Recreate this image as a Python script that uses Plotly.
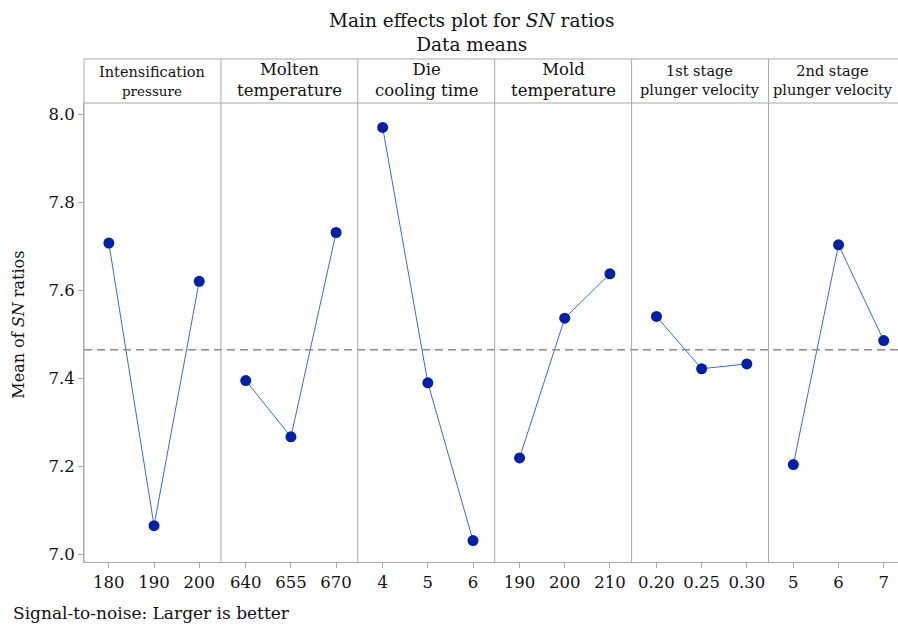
import plotly.graph_objects as go

# ---- data ----
factors = ["Intensification pressure", "Molten temperature", "Die cooling time",
           "Mold temperature", "1st stage plunger velocity", "2nd stage plunger velocity"]
levels_pressure = ["180", "190", "200"]
levels_molten = ["640", "655", "670"]
levels_cooling = ["4", "5", "6"]
levels_mold = ["190", "200", "210"]
levels_v1 = ["0.20", "0.25", "0.30"]
levels_v2 = ["5", "6", "7"]
sn_pressure = [7.708, 7.065, 7.621]
sn_molten = [7.395, 7.267, 7.732]
sn_cooling = [7.971, 7.390, 7.031]
sn_mold = [7.219, 7.537, 7.638]
sn_v1 = [7.541, 7.422, 7.433]
sn_v2 = [7.204, 7.704, 7.486]
grand_mean = 7.465
y_ticks = [7.0, 7.2, 7.4, 7.6, 7.8, 8.0]

levels = [levels_pressure, levels_molten, levels_cooling, levels_mold, levels_v1, levels_v2]
values = [sn_pressure, sn_molten, sn_cooling, sn_mold, sn_v1, sn_v2]

# header text: (line1, line2, size1, size2, centre_y_px)
headers = [("Intensification", "pressure", 14.5, 13.5, 82),
           ("Molten", "temperature", 16.5, 16.5, 80.5),
           ("Die", "cooling time", 16.5, 16.5, 80.5),
           ("Mold", "temperature", 16.5, 16.5, 80.5),
           ("1st stage", "plunger velocity", 14.5, 14.5, 81),
           ("2nd stage", "plunger velocity", 14.5, 14.5, 81)]

# ---- layout geometry (pixels) ----
W, H = 898, 628
L, R = 84, 0
TOP, BOT = 103.3, 562.3
PW = W - L - R
PH = BOT - TOP
panel_w = 136.9
hdr_top = 59.3
FONT = "DejaVu Serif"
GRID = "#a8a8a8"
TXT = "#111111"

def px_x(x):
    return (x - L) / PW

def px_y(y):
    return (BOT - y) / PH

fig = go.Figure()
xr_full = [-0.55, 2.48]
units_per_px = (xr_full[1] - xr_full[0]) / panel_w

layout_axes = {}
for i in range(6):
    x0 = L + i * panel_w
    x1 = min(x0 + panel_w, W - R)
    d0, d1 = px_x(x0), px_x(x1)
    xr = [xr_full[0], xr_full[0] + (x1 - x0) * units_per_px]
    name = "xaxis" if i == 0 else f"xaxis{i+1}"
    layout_axes[name] = dict(
        domain=[d0, min(d1, 1.0)], range=xr, anchor="y",
        tickmode="array", tickvals=[0, 1, 2], ticktext=levels[i],
        ticks="outside", ticklen=5, tickcolor=GRID, showline=True,
        linecolor=GRID, linewidth=1, showgrid=False, zeroline=False,
        tickfont=dict(family=FONT, size=16.5, color=TXT), fixedrange=True,
    )
    xa = "x" if i == 0 else f"x{i+1}"
    fig.add_trace(go.Scatter(
        x=[0, 1, 2], y=values[i], xaxis=xa, yaxis="y", mode="lines+markers",
        line=dict(color="#3a6ad6", width=1),
        marker=dict(color="#0021a5", size=11),
        showlegend=False, hoverinfo="skip"))

fig.update_layout(**layout_axes)
fig.update_layout(
    width=W, height=H,
    margin=dict(l=L, r=R, t=TOP, b=H - BOT, autoexpand=False),
    paper_bgcolor="white", plot_bgcolor="white",
    yaxis=dict(range=[6.9823, 8.0266], anchor="x", domain=[0, 1],
               tickvals=y_ticks, ticktext=[f"{v:.1f}" for v in y_ticks],
               ticks="outside", ticklen=5, tickcolor=GRID,
               showline=True, linecolor=GRID, linewidth=1,
               showgrid=False, zeroline=False,
               tickfont=dict(family=FONT, size=16.5, color=TXT), fixedrange=True),
)

shapes = []
shapes.append(dict(type="line", xref="paper", yref="y", x0=0, x1=1,
                   y0=grand_mean, y1=grand_mean,
                   line=dict(color="#8c8c8c", width=1.5, dash="8px,5px")))
yh = px_y(hdr_top)
shapes.append(dict(type="line", xref="paper", yref="paper", x0=0, x1=1, y0=yh, y1=yh,
                   line=dict(color=GRID, width=1)))
shapes.append(dict(type="line", xref="paper", yref="paper", x0=0, x1=1, y0=1, y1=1,
                   line=dict(color=GRID, width=1)))
shapes.append(dict(type="line", xref="paper", yref="paper", x0=0, x1=0, y0=0, y1=yh,
                   line=dict(color=GRID, width=1)))
for i in range(1, 6):
    xp = px_x(L + i * panel_w)
    shapes.append(dict(type="line", xref="paper", yref="paper", x0=xp, x1=xp, y0=0, y1=yh,
                       line=dict(color=GRID, width=1)))
fig.update_layout(shapes=shapes)

ann = []
for i, (t1, t2, s1, s2, cy) in enumerate(headers):
    cx = px_x(L + (i + 0.5) * panel_w)
    if i == 5:
        cx = px_x(L + i * panel_w + 64)
    text = f"{t1}<br><span style='font-size:{s2}px'>{t2}</span>"
    ann.append(dict(text=text, x=cx, y=px_y(cy), xref="paper", yref="paper",
                    showarrow=False, xanchor="center", yanchor="middle",
                    font=dict(family=FONT, size=s1, color=TXT)))
ann.append(dict(text="Main effects plot for <i>SN</i> ratios<br>Data means",
                x=px_x(471), y=px_y(32.5),
                xref="paper", yref="paper", showarrow=False, xanchor="center", yanchor="middle",
                font=dict(family=FONT, size=18.5, color=TXT)))
ann.append(dict(text="Mean of <i>SN</i> ratios", x=px_x(19), y=px_y(325), textangle=-90,
                xref="paper", yref="paper", showarrow=False, xanchor="center", yanchor="middle",
                font=dict(family=FONT, size=16, color=TXT)))
ann.append(dict(text="Signal-to-noise: Larger is better", x=px_x(11), y=px_y(613),
                xref="paper", yref="paper", showarrow=False, xanchor="left", yanchor="middle",
                font=dict(family=FONT, size=17, color=TXT)))
fig.update_layout(annotations=ann)

fig.write_html("out.html", config={"displayModeBar": False},
               post_script="document.body.style.margin='0';document.body.style.overflow='hidden';")
